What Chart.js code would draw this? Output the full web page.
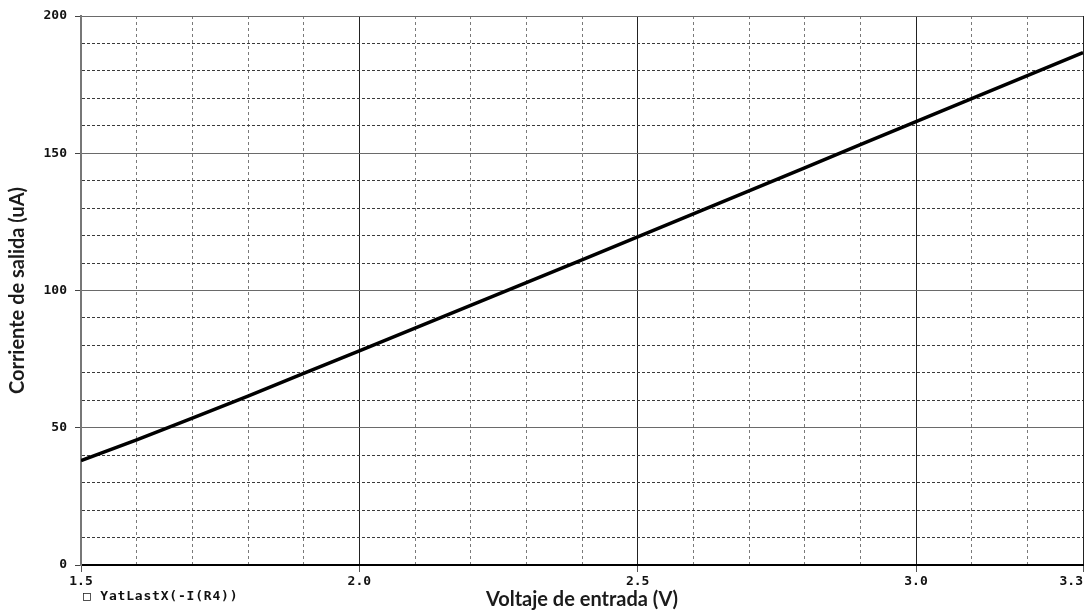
<!DOCTYPE html>
<html>
<head>
<meta charset="utf-8">
<script src="https://cdn.jsdelivr.net/npm/chart.js@4/dist/chart.umd.min.js"></script>
<style>
  html, body { margin: 0; padding: 0; background: #fff; }
  #wrap { width: 1086px; height: 611px; position: relative; }
</style>
</head>
<body>
<div id="wrap"><canvas id="c" width="1086" height="611"></canvas></div>
<script>
// Input voltage sweep (V) and the resulting output current (uA)
const VOLTAGES = [1.5, 1.6, 1.7, 1.8, 1.9, 2.0, 2.1, 2.2, 2.3, 2.4, 2.5, 2.6, 2.7, 2.8, 2.9, 3.0, 3.1, 3.2, 3.3];
const CURRENTS = [38.0, 45.6, 53.5, 61.5, 69.8, 78.0, 86.3, 94.6, 102.9, 111.2, 119.5, 127.9, 136.3, 144.7, 153.1, 161.5, 169.9, 178.3, 186.7];

// Axis ticks: every tick gets a grid line, only some carry a label
const X_TICKS = [1.5, 1.6, 1.7, 1.8, 1.9, 2.0, 2.1, 2.2, 2.3, 2.4, 2.5, 2.6, 2.7, 2.8, 2.9, 3.0, 3.1, 3.2, 3.3];
const X_TICK_LABELS = ['1.5', '', '', '', '', '2.0', '', '', '', '', '2.5', '', '', '', '', '3.0', '', '', '3.3   '];
const X_MAJOR = [1.5, 2.0, 2.5, 3.0, 3.3];
const Y_TICKS = [0, 10, 20, 30, 40, 50, 60, 70, 80, 90, 100, 110, 120, 130, 140, 150, 160, 170, 180, 190, 200];
const Y_TICK_LABELS = ['0', '', '', '', '', '50', '', '', '', '', '100', '', '', '', '', '150', '', '', '', '', '200'];
const Y_MAJOR = [0, 50, 100, 150, 200];

const SERIES_NAME = '\u25A1 YatLastX(-I(R4))';
const X_TITLE = 'Voltaje de entrada (V)';
const Y_TITLE = 'Corriente de salida (uA)';

const near = (v, list) => list.some(m => Math.abs(m - v) < 1e-6);
const tickFont = { family: 'DejaVu Sans Mono', size: 13, weight: 'bold' };

const traceLabel = {
  id: 'traceLabel',
  afterDraw(chart) {
    const ctx = chart.ctx;
    ctx.save();
    ctx.font = 'bold 13px "DejaVu Sans Mono"';
    ctx.letterSpacing = '0.8px';
    ctx.fillStyle = '#111';
    ctx.textAlign = 'left';
    ctx.textBaseline = 'middle';
    ctx.fillText(SERIES_NAME, 83, 597);
    ctx.restore();
  }
};

new Chart(document.getElementById('c'), {
  type: 'line',
  data: {
    datasets: [{
      label: SERIES_NAME,
      data: VOLTAGES.map((v, i) => ({ x: v, y: CURRENTS[i] })),
      borderColor: '#000',
      borderWidth: 3.5,
      pointRadius: 0,
      tension: 0,
      fill: false
    }]
  },
  options: {
    responsive: false,
    animation: false,
    layout: { padding: { top: 16, right: 3, left: 0, bottom: 0 } },
    plugins: { legend: { display: false }, tooltip: { enabled: false } },
    scales: {
      x: {
        type: 'linear',
        min: 1.5,
        max: 3.3,
        afterBuildTicks(scale) { scale.ticks = X_TICKS.map(v => ({ value: v })); },
        afterFit(scale) { scale.height = 46; scale.paddingLeft = 0; scale.paddingRight = 0; },
        ticks: {
          autoSkip: false,
          maxRotation: 0,
          padding: 2,
          color: '#111',
          font: tickFont,
          callback: (v, i) => X_TICK_LABELS[i]
        },
        grid: {
          drawTicks: true,
          tickLength: 7,
          lineWidth: 1,
          color: c => near(c.tick.value, X_MAJOR) ? '#222' : '#7a7a7a',
          tickColor: c => near(c.tick.value, X_MAJOR) ? '#555' : 'rgba(0,0,0,0)'
        },
        border: {
          display: true,
          color: '#000',
          width: 2,
          dash: c => (c.tick && !near(c.tick.value, X_MAJOR)) ? [3, 3] : []
        },
        title: {
          display: true,
          text: X_TITLE,
          color: '#1b1b1b',
          font: { family: 'Lato', size: 20, weight: 'bold' },
          padding: { top: 0, bottom: -1 }
        }
      },
      y: {
        type: 'linear',
        min: 0,
        max: 200,
        afterBuildTicks(scale) { scale.ticks = Y_TICKS.map(v => ({ value: v })); },
        afterFit(scale) { scale.width = 81; scale.paddingTop = 0; scale.paddingBottom = 0; },
        ticks: {
          autoSkip: false,
          padding: 8,
          color: '#111',
          font: tickFont,
          callback: (v, i) => Y_TICK_LABELS[i]
        },
        grid: {
          drawTicks: true,
          tickLength: 6,
          lineWidth: 1,
          color: c => near(c.tick.value, Y_MAJOR) ? '#6a6a6a' : '#3a3a3a',
          tickColor: c => near(c.tick.value, Y_MAJOR) ? '#444' : 'rgba(0,0,0,0)'
        },
        border: {
          display: true,
          color: '#777',
          width: 2,
          dash: c => (c.tick && !near(c.tick.value, Y_MAJOR)) ? [3, 2] : []
        },
        title: {
          display: true,
          text: Y_TITLE,
          color: '#1b1b1b',
          font: { family: 'Lato', size: 20, weight: 'bold' },
          padding: { top: 6, bottom: 0 }
        }
      }
    }
  },
  plugins: [traceLabel]
});
</script>
</body>
</html>
